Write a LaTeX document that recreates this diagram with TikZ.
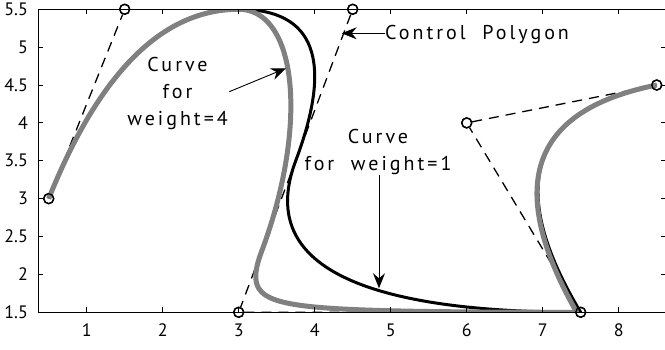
\documentclass[tikz,border=0pt]{standalone}
\usepackage{fontspec}
\setmainfont{PT Sans}
\newfontfamily\annfont[LetterSpace=15]{PT Sans}
\usetikzlibrary{arrows.meta}
\begin{document}
\begin{tikzpicture}[x=76pt,y=75.75pt,
  axisline/.style={line width=1.5pt, black},
  tickline/.style={line width=0.9pt, black},
  polyline/.style={dash pattern=on 10pt off 7pt, line width=1.3pt, black},
  ctrlpt/.style={circle, draw, line width=1.3pt, minimum size=10pt, inner sep=0pt},
  curveone/.style={line width=3pt, black, line join=round},
  curvefour/.style={line width=5pt, color={rgb,255:red,128;green,128;blue,128}, line join=round},
  annot/.style={font={\annfont\fontsize{20}{27}\selectfont}, align=center, inner sep=0pt},
  ticklab/.style={font={\fontsize{18}{20}\selectfont}, inner sep=0pt},
  pointer/.style={-{Stealth[length=15pt,width=12pt,inset=5pt]}, line width=0.9pt}
]
\useasboundingbox (-0.1408,1.0152) rectangle (8.609,5.6225);

% control points
\node[ctrlpt] (p0) at (0.5,3) {};
\node[ctrlpt] (p1) at (1.5,5.5) {};
\node[ctrlpt] (p2) at (4.5,5.5) {};
\node[ctrlpt] (p3) at (3,1.5) {};
\node[ctrlpt] (p4) at (7.5,1.5) {};
\node[ctrlpt] (p5) at (6,4) {};
\node[ctrlpt] (p6) at (8.5,4.5) {};

\begin{scope}
\clip (0.363,1.5) rectangle (8.64,5.5);
% control polygon
\draw[polyline] (p0) -- (p1) -- (p2) -- (p3) -- (p4) -- (p5) -- (p6);
% weight = 1
\draw[curveone] (p0.center) .. controls (1.1667,4.6667) and (2,5.5) .. (3,5.5)
  .. controls (4,5.5) and (4.25,4.8333) .. (3.75,3.5)
  .. controls (3.25,2.1667) and (4.5,1.5) .. (p4.center)
  .. controls (6.5,3.1667) and (6.8333,4.1667) .. (p6.center);
% weight = 4
\draw[curvefour] (p0.center) .. controls (1.1667,4.6667) and (2,5.5) .. (3,5.5)
  -- plot[domain=0:1, samples=80, variable=\t]
   ({((1-\t)^2*3+2*\t*(1-\t)*4.5+\t^2*8.25)/((1-\t)^2+2*\t*(1-\t)+2.5*\t^2)},
    {((1-\t)^2*5.5+2*\t*(1-\t)*5.5+\t^2*5.75)/((1-\t)^2+2*\t*(1-\t)+2.5*\t^2)})
  -- plot[domain=0:1, samples=100, variable=\t]
   ({((1-\t)^2*8.25+2*\t*(1-\t)*12+\t^2*7.5)/((1-\t)^2*2.5+2*\t*(1-\t)*4+\t^2)},
    {((1-\t)^2*5.75+2*\t*(1-\t)*6+\t^2*1.5)/((1-\t)^2*2.5+2*\t*(1-\t)*4+\t^2)})
  .. controls (6.5,3.1667) and (6.8333,4.1667) .. (p6.center);
\end{scope}

% axes box
\coordinate (axsw) at (0.363,1.5);
\coordinate (axne) at (8.64,5.5);
\draw[axisline] (axsw) rectangle (axne);
\foreach \xv in {1,...,8} {
  \draw[tickline] (\xv,1.5) -- ++(0,5pt);
  \draw[tickline] (\xv,5.5) -- ++(0,-5pt);
  \node[ticklab] (xl\xv) at (\xv,1.266) {\xv};
}
\foreach \yv/\yl in {1.5/1.5,2/2,2.5/2.5,3/3,3.5/3.5,4/4,4.5/4.5,5/5,5.5/5.5} {
  \draw[tickline] (0.363,\yv) -- ++(5pt,0);
  \draw[tickline] (8.64,\yv) -- ++(-6pt,0);
  \node[ticklab, anchor=east] (yl\yl) at (0.228,\yv) {\yl};
}

% redraw circles on top
\foreach \p in {p0,p1,p2,p3,p4,p5,p6} {
  \draw[line width=1.3pt] (\p) circle (5pt);
}

% annotations
\node[annot] (lab4) at (2.195,4.39) {Curve\\for\\weight=4};
\coordinate (tail4) at (2.876,4.412);
\coordinate (tip4) at (3.622,4.721);
\draw[pointer] (tail4) -- (tip4);

\node[annot] (lab1) at (4.833,3.62) {Curve\\for\ \ weight=1};
\coordinate (tip1) at (4.846,1.817);
\draw[pointer] (lab1.south -| tip1) -- (tip1);

\node[annot, anchor=west] (labcp) at (4.925,5.161) {Control\ \ Polygon};
\coordinate (tipcp) at (4.355,5.183);
\draw[pointer] (tipcp -| labcp.west) -- (tipcp);
\end{tikzpicture}
\end{document}
